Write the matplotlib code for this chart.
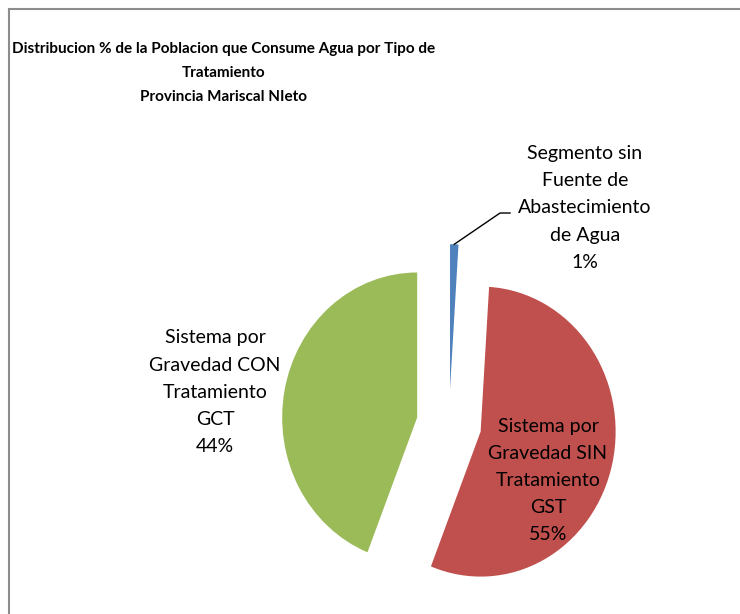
import matplotlib
matplotlib.use("Agg")
import matplotlib.pyplot as plt
import numpy as np

plt.rcParams['font.family'] = ['Lato', 'DejaVu Sans']

# data
categories = ["Segmento sin\nFuente de\nAbastecimiento\nde Agua",
              "Sistema por\nGravedad SIN\nTratamiento\nGST",
              "Sistema por\nGravedad CON\nTratamiento\nGCT"]
values = [1, 55, 44]
colors = ["#4F81BD", "#C0504D", "#9BBB59"]
title = ("Distribucion % de la Poblacion que Consume Agua por Tipo de\n"
         "Tratamiento\nProvincia Mariscal NIeto")

W, H = 740, 614
fig = plt.figure(figsize=(W / 100, H / 100), dpi=100)
ax = fig.add_axes([0, 0, 1, 1])

explode = [0.24] * len(values)
wedges, _ = ax.pie(values, colors=colors, explode=explode, startangle=90,
                   counterclock=False, radius=1,
                   wedgeprops=dict(linewidth=0))

# pie centre at (449, 424) px, squashed horizontally like the source image
cx, cy, rx, ry = 449, 424, 135, 145
ax.set_aspect('auto')
ax.set_xlim(-cx / rx, (W - cx) / rx)
ax.set_ylim(-(H - cy) / ry, cy / ry)
ax.axis('off')

pct = [f"{v}%" for v in values]
lab_pos = {0: (1.007, 1.49), 1: (0.733, -0.39), 2: (-1.733, 0.22)}
for i, (name, p) in enumerate(zip(categories, pct)):
    x, y = lab_pos[i]
    ax.text(x, y, name + "\n" + p, ha='center', va='center', fontsize=14,
            linespacing=1.72, color='black')

# leader line for the small slice
w = wedges[0]
mid = np.deg2rad((w.theta1 + w.theta2) / 2)
tip = ((1 + explode[0]) * np.cos(mid), (1 + explode[0]) * np.sin(mid))
ax.plot([tip[0], 0.378, 0.452], [tip[1], 1.455, 1.455], color='black', lw=1)

fig.text(224 / W, 1 - 73 / H, title, ha='center', va='center',
         fontsize=11, fontweight='bold', linespacing=1.9)

# chart frame
fig.add_artist(plt.Line2D([9 / W, 9 / W], [0, 1 - 9 / H],
                          transform=fig.transFigure, color='#8c8c8c', lw=1.5))
fig.add_artist(plt.Line2D([9 / W, 1], [1 - 9 / H, 1 - 9 / H],
                          transform=fig.transFigure, color='#8c8c8c', lw=1.5))

fig.savefig("out.png", dpi=100)
